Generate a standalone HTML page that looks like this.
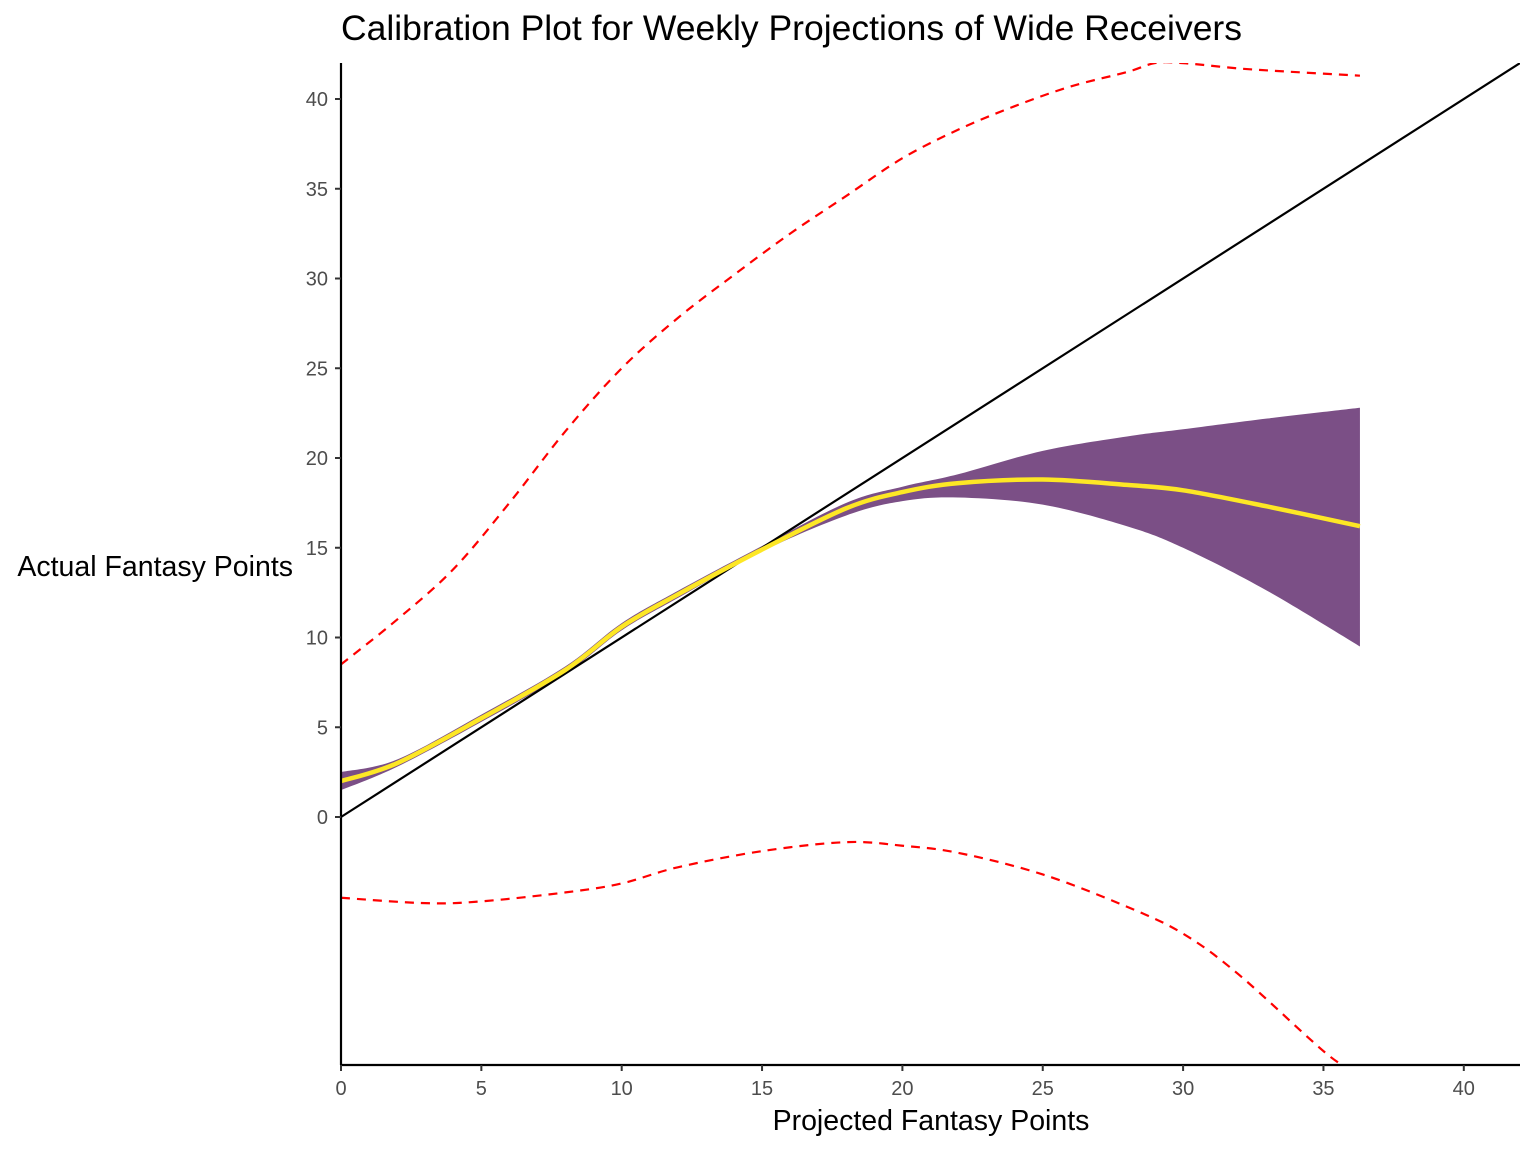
<!DOCTYPE html>
<html><head><meta charset="utf-8"><style>
body{margin:0;background:#fff}
svg{display:block;font-family:"Liberation Sans",sans-serif}
</style></head><body>
<svg id="chart" width="1536" height="1152" viewBox="0 0 1536 1152">
<defs><clipPath id="clip"><rect x="341" y="63" width="1179" height="1002"/></clipPath></defs>
<text x="341" y="40" font-size="35.5" fill="#000">Calibration Plot for Weekly Projections of Wide Receivers</text>
<g id="plot" clip-path="url(#clip)"></g>
<g id="axes"></g>
<text x="293" y="576" font-size="28.5" text-anchor="end" fill="#000">Actual Fantasy Points</text>
<text x="931" y="1130" font-size="28.5" text-anchor="middle" fill="#000">Projected Fantasy Points</text>
</svg>
<script>
const fitX = [0,2,5,8,10,12,15,18,20,22,25,28,30,33,36.3];
const fitY = [2.0,3.0,5.5,8.2,10.6,12.4,14.9,17.2,18.1,18.6,18.8,18.5,18.2,17.3,16.2];
const ribX = [0,2,5,8,10,12,15,18,20,22,25,28,30,33,36.3];
const ribHi = [2.5,3.2,5.7,8.4,10.8,12.6,15.1,17.5,18.4,19.1,20.4,21.2,21.6,22.2,22.8];
const ribLo = [1.5,2.8,5.3,8.0,10.4,12.2,14.8,16.8,17.6,17.8,17.4,16.2,15.0,12.6,9.5];
const upX = [0,2,4,6,8,10,12,14,16,18,20,22,24,26,28,29,30,32,34,36.3];
const upY = [8.5,11,13.8,17.5,21.5,25,27.8,30.2,32.5,34.6,36.7,38.3,39.6,40.7,41.5,42,42,41.7,41.5,41.3];
const loX = [0,3,5,8,10,12,15,18,20,22,25,28,30,32,35.2,36.3];
const loY = [-4.5,-4.8,-4.7,-4.2,-3.7,-2.8,-1.9,-1.4,-1.6,-2.0,-3.2,-5.0,-6.5,-8.8,-13.3,-14.2];
const xTicks = [0,5,10,15,20,25,30,35,40];
const yTicks = [0,5,10,15,20,25,30,35,40];

const sx = v => 341 + v*28.07;
const sy = v => 817 - v*17.95;
const NS = "http://www.w3.org/2000/svg";
const plot = document.getElementById('plot'), axes = document.getElementById('axes');
function mk(tag, attrs, parent){const e=document.createElementNS(NS,tag);for(const k in attrs)e.setAttribute(k,attrs[k]);parent.appendChild(e);return e;}
function smooth(pts){
  let d=`M${pts[0][0]},${pts[0][1]}`;
  for(let i=0;i<pts.length-1;i++){
    const p0=pts[Math.max(i-1,0)],p1=pts[i],p2=pts[i+1],p3=pts[Math.min(i+2,pts.length-1)];
    const c1=[p1[0]+(p2[0]-p0[0])/6,p1[1]+(p2[1]-p0[1])/6];
    const c2=[p2[0]-(p3[0]-p1[0])/6,p2[1]-(p3[1]-p1[1])/6];
    d+=` C${c1[0]},${c1[1]} ${c2[0]},${c2[1]} ${p2[0]},${p2[1]}`;
  }
  return d;
}
const hi = ribX.map((x,i)=>[sx(x),sy(ribHi[i])]);
const lo = ribX.map((x,i)=>[sx(x),sy(ribLo[i])]).reverse();
let rd = smooth(hi) + ' L' + smooth(lo).slice(1) + ' Z';
const rib = mk('path',{d:rd,fill:'#7b4f86',stroke:'none'},plot);


const diag = mk('line',{x1:sx(0),y1:sy(0),x2:sx(42),y2:sy(42),stroke:'#000','stroke-width':2.2},plot);


const up = mk('path',{d:smooth(upX.map((x,i)=>[sx(x),sy(upY[i])])),fill:'none',stroke:'#ff0000','stroke-width':2.2,'stroke-dasharray':'9,7'},plot);


const low = mk('path',{d:smooth(loX.map((x,i)=>[sx(x),sy(loY[i])])),fill:'none',stroke:'#ff0000','stroke-width':2.2,'stroke-dasharray':'9,7'},plot);


const fit = mk('path',{d:smooth(fitX.map((x,i)=>[sx(x),sy(fitY[i])])),fill:'none',stroke:'#fde725','stroke-width':4.5},plot);



const xa = mk('line',{x1:341,y1:1065,x2:1520,y2:1065,stroke:'#000','stroke-width':2.2},axes);


const ya = mk('line',{x1:341,y1:63,x2:341,y2:1065,stroke:'#000','stroke-width':2.2},axes);


xTicks.forEach(t=>{
  const tk = mk('line',{x1:sx(t),y1:1065,x2:sx(t),y2:1071,stroke:'#333','stroke-width':2},axes);
  
  
  const lb = mk('text',{x:sx(t),y:1095,'font-size':20,'text-anchor':'middle',fill:'#4d4d4d'},axes);
  lb.textContent=t;
  
  
});
yTicks.forEach(t=>{
  const tk = mk('line',{x1:335,y1:sy(t),x2:341,y2:sy(t),stroke:'#333','stroke-width':2},axes);
  
  
  const lb = mk('text',{x:328,y:sy(t)+7,'font-size':20,'text-anchor':'end',fill:'#4d4d4d'},axes);
  lb.textContent=t;
  
  
});
</script>
</body></html>
